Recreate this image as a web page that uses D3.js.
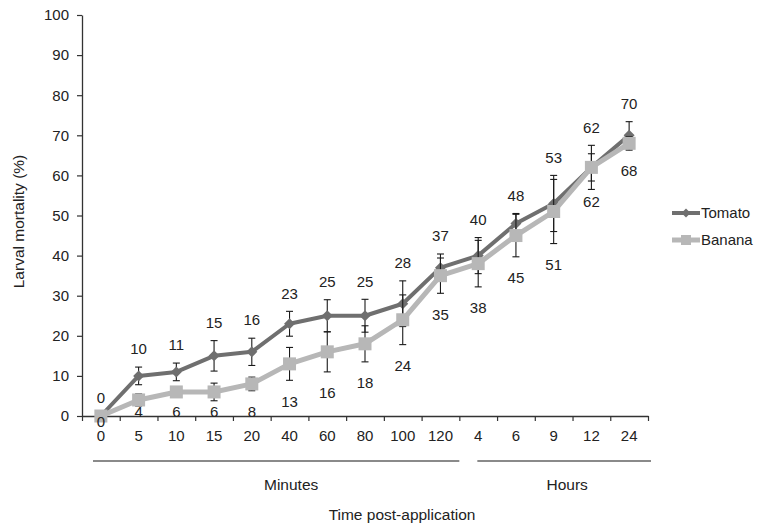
<!DOCTYPE html>
<html>
<head>
<meta charset="utf-8">
<script src="https://cdn.jsdelivr.net/npm/d3@7"></script>
<style>
  html, body { margin: 0; padding: 0; background: #fff; }
  svg { display: block; font-family: "Liberation Sans", Arial, Helvetica, sans-serif; }
</style>
</head>
<body>
<svg id="chart" width="757" height="526"></svg>
<script>
// Time points (minutes, then hours) and mean larval mortality (%) per treatment
const categories = ["0", "5", "10", "15", "20", "40", "60", "80", "100", "120", "4", "6", "9", "12", "24"];
const tomato    = [0, 10, 11, 15, 16, 23, 25, 25, 28, 37, 40, 48, 53, 62, 70];
const banana    = [0, 4, 6, 6, 8, 13, 16, 18, 24, 35, 38, 45, 51, 62, 68];
// Standard error of each mean
const tomatoErr = [0, 2.2, 2.2, 3.8, 3.4, 3.1, 4.0, 4.1, 5.7, 3.4, 4.5, 2.5, 7.0, 5.5, 3.4];
const bananaErr = [0, 1.5, 1.3, 2.2, 1.7, 4.1, 5.0, 4.5, 6.2, 4.4, 5.8, 5.3, 8.0, 3.4, 1.7];
const yTicks = [0, 10, 20, 30, 40, 50, 60, 70, 80, 90, 100];
const groupNames = ["Minutes", "Hours"];
const groupStart = [0, 10];
const groupEnd   = [9, 14];
const seriesNames = ["Tomato", "Banana"];

const svg = d3.select("#chart");
const plotLeft = 82, plotRight = 648, plotTop = 15, plotBottom = 416;
const textColor = "#222";
const colors = { Tomato: "#6f6f6f", Banana: "#b7b7b7" };

const idx = d3.range(categories.length);
const x = d3.scaleBand().domain(idx).range([plotLeft, plotRight]).padding(0);
const xEdge = d3.scaleLinear().domain([0, categories.length]).range([plotLeft, plotRight]);
const y = d3.scaleLinear().domain([0, 100]).range([plotBottom, plotTop]);
const cx = i => x(i) + x.bandwidth() / 2;

// Y axis
const yAxis = svg.append("g")
  .attr("transform", `translate(${plotLeft},0)`)
  .call(d3.axisLeft(y).tickValues(yTicks).tickSize(5).tickSizeOuter(0).tickPadding(8));
yAxis.select(".domain").attr("stroke", "#333").attr("stroke-width", 1.3);
yAxis.selectAll(".tick line").attr("stroke", "#333").attr("stroke-width", 1.2);
yAxis.selectAll(".tick text").attr("fill", textColor).style("font-size", "15px");

// X axis: boundary ticks between categories
const xTicks = svg.append("g")
  .attr("transform", `translate(0,${plotBottom})`)
  .call(d3.axisBottom(xEdge).tickValues(d3.range(categories.length + 1)).tickFormat("").tickSize(5).tickSizeOuter(0));
xTicks.select(".domain").attr("stroke", "#333").attr("stroke-width", 1.3);
xTicks.selectAll(".tick line").attr("stroke", "#333").attr("stroke-width", 1.2);

// X axis: category labels centred in each band
const xLabels = svg.append("g")
  .attr("transform", `translate(0,${plotBottom})`)
  .call(d3.axisBottom(x).tickSize(0).tickPadding(14).tickFormat(i => categories[i]));
xLabels.select(".domain").remove();
xLabels.selectAll(".tick text").attr("fill", textColor).style("font-size", "15px");

// Group brackets under the axis
const groupLineY = 461;
const groupInset = [[11, 0], [18, 3]];
const groupLabelShift = [15, 3];
groupNames.forEach((name, g) => {
  const x0 = xEdge(groupStart[g]) + groupInset[g][0];
  const x1 = xEdge(groupEnd[g] + 1) + groupInset[g][1];
  svg.append("line")
    .attr("x1", x0).attr("x2", x1)
    .attr("y1", groupLineY).attr("y2", groupLineY)
    .attr("stroke", "#8a8a8a").attr("stroke-width", 2);
  svg.append("text")
    .attr("x", (x0 + x1) / 2 + groupLabelShift[g]).attr("y", 490)
    .attr("text-anchor", "middle").attr("fill", textColor)
    .style("font-size", "15.5px").text(name);
});

// Axis titles
svg.append("text")
  .attr("x", 402).attr("y", 520)
  .attr("text-anchor", "middle").attr("fill", textColor)
  .style("font-size", "15.5px").text("Time post-application");
svg.append("text")
  .attr("transform", `translate(24,${(153 + 290) / 2}) rotate(-90)`)
  .attr("text-anchor", "middle").attr("fill", textColor)
  .style("font-size", "15.5px").text("Larval mortality (%)");

const diamond = s => `M0,${-s}L${s},0L0,${s}L${-s},0Z`;

function drawSeries(name, values, errs, labelAbove) {
  const color = colors[name];
  const g = svg.append("g");
  // error bars
  const eb = g.append("g").attr("stroke", "#1a1a1a").attr("stroke-width", 1.1);
  idx.forEach(i => {
    if (!errs[i]) return;
    const x0 = cx(i), yHi = y(values[i] + errs[i]), yLo = y(values[i] - errs[i]);
    eb.append("line").attr("x1", x0).attr("x2", x0).attr("y1", yHi).attr("y2", yLo);
    eb.append("line").attr("x1", x0 - 3.5).attr("x2", x0 + 3.5).attr("y1", yHi).attr("y2", yHi);
    eb.append("line").attr("x1", x0 - 3.5).attr("x2", x0 + 3.5).attr("y1", yLo).attr("y2", yLo);
  });
  // line
  g.append("path")
    .datum(idx)
    .attr("fill", "none").attr("stroke", color)
    .attr("stroke-width", name === "Tomato" ? 4 : 5)
    .attr("stroke-linejoin", "round")
    .attr("d", d3.line().x(i => cx(i)).y(i => y(values[i])));
  // markers
  idx.forEach(i => {
    if (name === "Tomato") {
      g.append("path").attr("transform", `translate(${cx(i)},${y(values[i])})`)
        .attr("d", diamond(5.5)).attr("fill", color);
    } else {
      g.append("rect").attr("x", cx(i) - 6.5).attr("y", y(values[i]) - 6.5)
        .attr("width", 13).attr("height", 13).attr("fill", color);
    }
  });
  // value labels: above the upper whisker, or below the lower whisker
  idx.forEach(i => {
    let ty;
    if (labelAbove) ty = y(values[i] + errs[i]) - 18;
    else ty = Math.min(y(values[i] - errs[i]) + 21, Math.max(y(values[i]) + 6, plotBottom - 4));
    svg.append("text")
      .attr("x", cx(i)).attr("y", ty).attr("dy", "0.35em")
      .attr("text-anchor", "middle").attr("fill", textColor)
      .style("font-size", "15px").text(values[i]);
  });
}

drawSeries("Tomato", tomato, tomatoErr, true);
drawSeries("Banana", banana, bananaErr, false);

// Legend
const legendY = [213, 240];
seriesNames.forEach((name, k) => {
  const ly = legendY[k];
  svg.append("line").attr("x1", 672).attr("x2", 700).attr("y1", ly).attr("y2", ly)
    .attr("stroke", colors[name]).attr("stroke-width", name === "Tomato" ? 4 : 5);
  if (name === "Tomato") {
    svg.append("path").attr("transform", `translate(686,${ly})`).attr("d", diamond(4.5)).attr("fill", colors[name]);
  } else {
    svg.append("rect").attr("x", 681).attr("y", ly - 5).attr("width", 10).attr("height", 10).attr("fill", colors[name]);
  }
  svg.append("text").attr("x", 701).attr("y", ly).attr("dy", "0.35em")
    .attr("fill", textColor).style("font-size", "15px").text(name);
});
</script>
</body>
</html>
